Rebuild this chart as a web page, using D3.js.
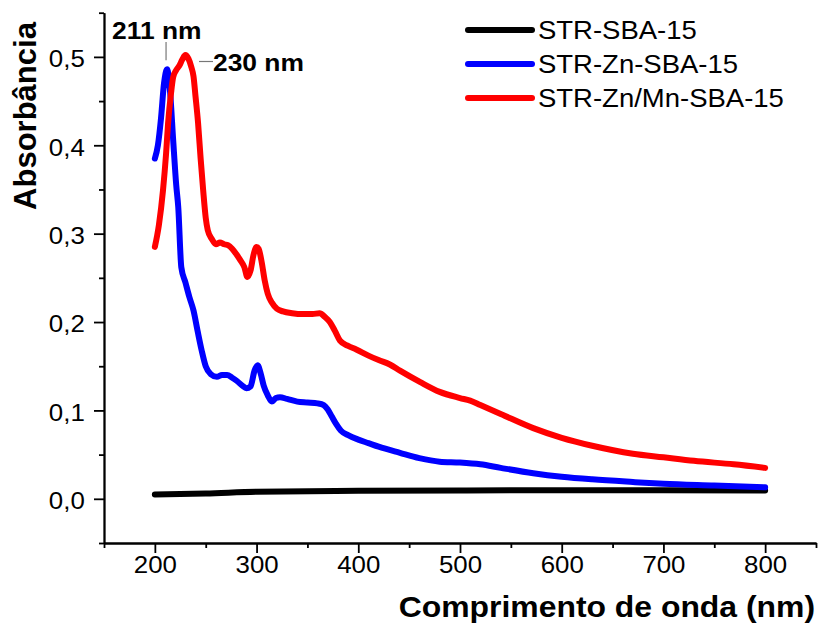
<!DOCTYPE html>
<html>
<head>
<meta charset="utf-8">
<script src="https://cdn.jsdelivr.net/npm/d3@7"></script>
<style>
  body { margin: 0; background: #fff; }
  text { font-family: "Liberation Sans", Arial, sans-serif; fill: #000; }
</style>
</head>
<body>
<svg id="chart" width="819" height="624"></svg>
<script>
// wavelengths (nm) and absorbance
var seriesNames = ['STR-SBA-15', 'STR-Zn-SBA-15', 'STR-Zn/Mn-SBA-15'];
var seriesColors = ['#000000', '#0000ff', '#ff0000'];

var blackNm = [200, 250, 300, 400, 500, 600, 700, 800];
var blackAbs = [0.005, 0.006, 0.008, 0.009, 0.0095, 0.0098, 0.0098, 0.0095];

var blueNm = [200, 203, 206, 209, 212, 215, 218, 221, 223, 226, 230, 234, 238, 242, 246, 250,
  255, 261, 266, 271, 276, 281, 286, 290, 294, 298, 301, 304, 307, 311, 315, 319, 323, 330,
  340, 350, 360, 366, 370, 374, 378, 383, 390, 400, 410, 420, 441, 460, 480, 500, 520, 540,
  572, 600, 630, 670, 700, 750, 800];
var blueAbs = [0.385, 0.40, 0.43, 0.47, 0.486, 0.46, 0.406, 0.355, 0.33, 0.262, 0.245, 0.228,
  0.213, 0.19, 0.168, 0.150, 0.141, 0.138, 0.14, 0.14, 0.137, 0.133, 0.128, 0.125, 0.127,
  0.145, 0.151, 0.142, 0.128, 0.117, 0.110, 0.114, 0.115, 0.113, 0.110, 0.109, 0.108, 0.106,
  0.101, 0.093, 0.085, 0.077, 0.072, 0.067, 0.063, 0.059, 0.052, 0.046, 0.042, 0.041, 0.039,
  0.035, 0.029, 0.025, 0.022, 0.019, 0.017, 0.015, 0.013];

var redNm = [200, 204, 208, 211, 213, 216, 218, 221, 224, 227, 230, 233, 236, 238, 240, 242.5,
  245, 247.5, 250, 252, 256, 260, 264, 268, 272, 276, 280, 284, 288, 291, 294, 297, 300, 302,
  305, 308, 311, 315, 320, 326, 335, 345, 355, 362, 367, 372, 377, 382, 390, 398, 410, 420,
  431, 441, 461, 480, 500, 510, 520, 540, 572, 600, 630, 670, 700, 730, 769, 800];
var redAbs = [0.285, 0.31, 0.349, 0.39, 0.425, 0.46, 0.477, 0.485, 0.49, 0.497, 0.502, 0.498,
  0.488, 0.478, 0.455, 0.425, 0.385, 0.349, 0.318, 0.304, 0.294, 0.288, 0.29, 0.288, 0.287,
  0.283, 0.277, 0.27, 0.262, 0.251, 0.258, 0.276, 0.285, 0.283, 0.268, 0.247, 0.232, 0.222,
  0.215, 0.212, 0.21, 0.209, 0.209, 0.21, 0.206, 0.200, 0.19, 0.179, 0.173, 0.169, 0.162,
  0.157, 0.152, 0.145, 0.132, 0.121, 0.114, 0.111, 0.106, 0.096, 0.080, 0.069, 0.060, 0.051,
  0.047, 0.043, 0.039, 0.035];

var xMajorTicks = [200, 300, 400, 500, 600, 700, 800];
var xMinorTicks = [150, 250, 350, 450, 550, 650, 750, 850];
var yMajorTicks = [0, 0.1, 0.2, 0.3, 0.4, 0.5];
var yMinorTicks = [-0.05, 0.05, 0.15, 0.25, 0.35, 0.45, 0.55];

var peakLabels = ['211 nm', '230 nm'];

var svg = d3.select('#chart');
var plotLeft = 104, plotTop = 12.7, plotRight = 816, plotBottom = 543;
var stretch = 1.1; // the reference type is a bit wider than it is tall

var x = d3.scaleLinear().domain([150, 850]).range([plotLeft, plotRight]);
var y = d3.scaleLinear().domain([-0.05, 0.55]).range([plotBottom, plotTop]);

function zipSeries(nm, abs) {
  return nm.map(function(d, i) { return [d, abs[i]]; });
}

var series = [
  zipSeries(blackNm, blackAbs),
  zipSeries(blueNm, blueAbs),
  zipSeries(redNm, redAbs)
];

function styleAxis(g) {
  g.selectAll('path, line').attr('stroke', '#000').attr('stroke-width', 1.8);
  g.selectAll('text').attr('font-size', 23.5).attr('fill', '#000')
    .attr('font-family', '"Liberation Sans", Arial, sans-serif')
    .attr('transform', 'scale(' + stretch + ',1)');
}

// x axis, major then minor ticks
var xAxisG = svg.append('g')
  .attr('transform', 'translate(0,' + plotBottom + ')')
  .call(d3.axisBottom(x).tickValues(xMajorTicks).tickSize(10).tickSizeOuter(0))
  .call(styleAxis);
xAxisG.selectAll('text').attr('y', 30).attr('dy', 0);
svg.append('g')
  .attr('transform', 'translate(0,' + plotBottom + ')')
  .call(d3.axisBottom(x).tickValues(xMinorTicks).tickSize(5).tickSizeOuter(0).tickFormat(''))
  .call(styleAxis);

// y axis
var commaFmt = function(d) { return d3.format('.1f')(d).replace('.', ','); };
var yAxisG = svg.append('g')
  .attr('transform', 'translate(' + plotLeft + ',0)')
  .call(d3.axisLeft(y).tickValues(yMajorTicks).tickSize(10).tickSizeOuter(0).tickPadding(7.5)
    .tickFormat(commaFmt))
  .call(styleAxis);
yAxisG.selectAll('text').attr('dy', '0.42em');
svg.append('g')
  .attr('transform', 'translate(' + plotLeft + ',0)')
  .call(d3.axisLeft(y).tickValues(yMinorTicks).tickSize(5).tickSizeOuter(0).tickFormat(''))
  .call(styleAxis);

// spectra
var line = d3.line()
  .x(function(d) { return x(d[0]); })
  .y(function(d) { return y(d[1]); })
  .curve(d3.curveMonotoneX);

svg.append('g').selectAll('path.spectrum')
  .data(series)
  .enter().append('path')
  .classed('spectrum', true)
  .attr('d', line)
  .attr('fill', 'none')
  .attr('stroke', function(d, i) { return seriesColors[i]; })
  .attr('stroke-width', 6)
  .attr('stroke-linejoin', 'round')
  .attr('stroke-linecap', 'round');

// legend
var legend = svg.append('g').selectAll('g.item')
  .data(seriesNames)
  .enter().append('g')
  .classed('item', true)
  .attr('transform', function(d, i) { return 'translate(468,' + (30 + i * 34) + ')'; });
legend.append('line')
  .attr('x1', 0).attr('x2', 64)
  .attr('stroke', function(d, i) { return seriesColors[i]; })
  .attr('stroke-width', 6)
  .attr('stroke-linecap', 'round');
legend.append('text')
  .attr('transform', 'translate(70,0) scale(' + stretch + ',1)')
  .attr('dy', '0.36em')
  .attr('font-size', 25)
  .text(function(d) { return d; });

// peak annotations
var blue211 = y(0.486);
svg.append('line')
  .attr('x1', x(211)).attr('x2', x(211))
  .attr('y1', 42).attr('y2', blue211 - 9)
  .attr('stroke', '#777').attr('stroke-width', 1.2);
svg.append('text')
  .attr('transform', 'translate(112,39) scale(' + stretch + ',1)')
  .attr('font-size', 24).attr('font-weight', 'bold')
  .text(peakLabels[0]);
svg.append('line')
  .attr('x1', 199).attr('x2', 213)
  .attr('y1', 61.5).attr('y2', 61.5)
  .attr('stroke', '#777').attr('stroke-width', 1.2);
svg.append('text')
  .attr('transform', 'translate(213,71) scale(' + stretch + ',1)')
  .attr('font-size', 24).attr('font-weight', 'bold')
  .text(peakLabels[1]);

// axis titles
svg.append('text')
  .attr('transform', 'translate(815,617) scale(' + stretch + ',1)')
  .attr('text-anchor', 'end')
  .attr('font-size', 29).attr('font-weight', 'bold')
  .text('Comprimento de onda (nm)');
svg.append('text')
  .attr('transform', 'translate(36,116) rotate(-90)')
  .attr('text-anchor', 'middle')
  .attr('font-size', 31).attr('font-weight', 'bold')
  .text('Absorbância');
</script>
</body>
</html>
